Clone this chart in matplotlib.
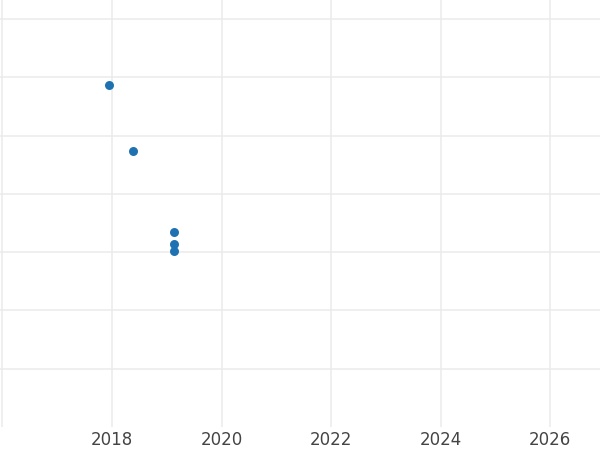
import matplotlib
matplotlib.use("Agg")
import matplotlib.pyplot as plt

# data (y axis has no labels, units are relative)
years = [2017.95, 2018.38, 2019.13, 2019.13, 2019.13]
values = [5.87, 4.73, 3.34, 3.14, 3.02]

xticks = [2018, 2020, 2022, 2024, 2026]
grid_x = [2016, 2018, 2020, 2022, 2024, 2026]
grid_y = [1, 2, 3, 4, 5, 6, 7]

fig = plt.figure(figsize=(6, 4.5), dpi=100)
ax = fig.add_axes([0, 23 / 450, 1, 427 / 450])

for gx in grid_x:
    ax.axvline(gx, color="#ebebeb", linewidth=1.1, zorder=0)
for gy in grid_y:
    ax.axhline(gy, color="#ebebeb", linewidth=1.1, zorder=0)

ax.scatter(years, values, s=42, color="#1f72b2", zorder=3, linewidths=0)

ax.set_xlim(2015.955, 2026.91)
ax.set_ylim(0, 7.33)
ax.set_xticks(xticks)
ax.set_xticklabels([str(t) for t in xticks], fontsize=12, color="#444444")
ax.set_yticks([])
ax.tick_params(axis="x", length=0, pad=3)
for s in ax.spines.values():
    s.set_visible(False)

fig.savefig("out.png", dpi=100)
